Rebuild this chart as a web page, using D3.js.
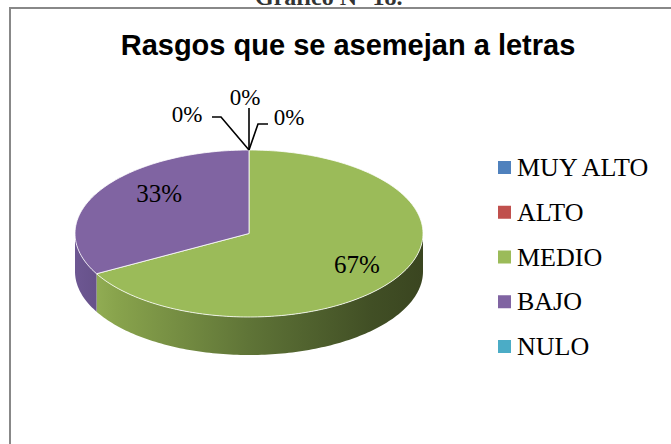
<!DOCTYPE html>
<html>
<head>
<meta charset="utf-8">
<script src="https://cdn.jsdelivr.net/npm/d3@7/dist/d3.min.js"></script>
<style>
  html, body { margin: 0; padding: 0; background: #fff; }
  svg { display: block; }
</style>
</head>
<body>
<svg id="chart" width="671" height="444"></svg>
<script>
// ---- data ----
const categories = ["MUY ALTO", "ALTO", "MEDIO", "BAJO", "NULO"];
const values = [0, 0, 67, 33, 0];
const percentLabels = ["0%", "0%", "67%", "33%", "0%"];
const colors = ["#4f81bd", "#c0504d", "#9bbb59", "#8064a2", "#4bacc6"];
const chartTitle = "Rasgos que se asemejan a letras";
const figureCaption = "Gráfico N° 18.";

// ---- layout ----
const W = 671, H = 444;
const svg = d3.select("#chart");
const cx = 249, cy = 233.5, rx = 174, ry = 83.5, depth = 38;

// frame
svg.append("path")
  .attr("d", `M10,${H} L10,8 L${W},8`)
  .attr("fill", "none").attr("stroke", "#888").attr("stroke-width", 2);

// clipped caption above frame
svg.append("text")
  .attr("x", 255).attr("y", 5)
  .attr("font-family", "Liberation Serif, 'Times New Roman', serif")
  .attr("font-weight", "bold").attr("font-size", 24)
  .attr("fill", "#333")
  .text(figureCaption);

// title
svg.append("text")
  .attr("x", 348).attr("y", 55)
  .attr("text-anchor", "middle")
  .attr("font-family", "Liberation Sans, Arial, sans-serif")
  .attr("font-weight", "bold").attr("font-size", 29)
  .attr("fill", "#000")
  .text(chartTitle);

// ---- pie geometry ----
const pie = d3.pie().sort(null).value(d => d).startAngle(0).endAngle(2 * Math.PI);
const arcs = pie(values);

const px = a => cx + rx * Math.sin(a);
const py = a => cy - ry * Math.cos(a);

function ellipsePts(a0, a1, dy) {
  const n = Math.max(2, Math.ceil(Math.abs(a1 - a0) / 0.02));
  const pts = [];
  for (let i = 0; i <= n; i++) {
    const a = a0 + (a1 - a0) * i / n;
    pts.push([px(a), py(a) + dy]);
  }
  return pts;
}

const defs = svg.append("defs");
const gGreen = defs.append("linearGradient").attr("id", "sideGreen")
  .attr("gradientUnits", "userSpaceOnUse")
  .attr("x1", cx - rx).attr("x2", cx + rx).attr("y1", 0).attr("y2", 0);
[[0, "#9ab65a"], [0.12, "#88a34c"], [0.5, "#5f7437"], [0.85, "#414f25"], [1, "#3a4520"]]
  .forEach(([o, c]) => gGreen.append("stop").attr("offset", o).attr("stop-color", c));
const gPurple = defs.append("linearGradient").attr("id", "sidePurple")
  .attr("gradientUnits", "userSpaceOnUse")
  .attr("x1", cx - rx).attr("x2", cx + rx).attr("y1", 0).attr("y2", 0);
[[0, "#6d5792"], [0.1, "#634e86"], [1, "#3f3157"]]
  .forEach(([o, c]) => gPurple.append("stop").attr("offset", o).attr("stop-color", c));
const sideFill = { 2: "url(#sideGreen)", 3: "url(#sidePurple)" };

const line = d3.line();
const gPie = svg.append("g");

// sides (front half only)
arcs.forEach((d, i) => {
  const s = Math.max(d.startAngle, Math.PI / 2);
  const e = Math.min(d.endAngle, 3 * Math.PI / 2);
  if (d.value <= 0 || s >= e) return;
  const top = ellipsePts(s, e, 0);
  const bot = ellipsePts(e, s, depth);
  gPie.append("path")
    .attr("d", line(top.concat(bot)) + "Z")
    .attr("fill", sideFill[i] || d3.color(colors[i]).darker(0.8));
});

// tops
arcs.forEach((d, i) => {
  if (d.value <= 0) return;
  const pts = [[cx, cy]].concat(ellipsePts(d.startAngle, d.endAngle, 0));
  gPie.append("path")
    .attr("d", line(pts) + "Z")
    .attr("fill", colors[i])
    .attr("stroke", "#fff").attr("stroke-width", 0.8).attr("stroke-linejoin", "round");
});

// ---- labels ----
const labelFont = "Liberation Serif, 'Times New Roman', serif";
const f = 0.72;
arcs.forEach((d, i) => {
  if (d.value <= 0) return;
  const m = (d.startAngle + d.endAngle) / 2;
  const lx = cx + rx * f * Math.sin(m);
  const ly = cy - ry * f * Math.cos(m) + (Math.cos(m) > 0 ? -10 : 0);
  svg.append("text")
    .attr("x", i === 3 ? lx + 18 : lx).attr("y", ly)
    .attr("dy", "0.35em")
    .attr("text-anchor", "middle")
    .attr("font-family", labelFont).attr("font-size", 25)
    .attr("fill", "#000")
    .text(percentLabels[i]);
});

// zero-value labels with leader lines from the top point of the pie
const zeroIdx = values.map((v, i) => v === 0 ? i : -1).filter(i => i >= 0);
const tx = px(0), ty = py(0);
const leaderShapes = [
  { pts: [[tx, ty], [tx - 28, ty - 33], [tx - 37, ty - 33]], lx: tx - 62, ly: ty - 36, anchor: "middle" },
  { pts: [[tx, ty], [tx, ty - 42]], lx: tx - 4, ly: ty - 53, anchor: "middle" },
  { pts: [[tx, ty], [tx + 9, ty - 26], [tx + 19, ty - 26]], lx: tx + 40, ly: ty - 33, anchor: "middle" }
];
zeroIdx.forEach((idx, k) => {
  const L = leaderShapes[k % leaderShapes.length];
  svg.append("path").attr("d", line(L.pts))
    .attr("fill", "none").attr("stroke", "#000").attr("stroke-width", 1.6);
  svg.append("text")
    .attr("x", L.lx).attr("y", L.ly).attr("dy", "0.35em")
    .attr("text-anchor", L.anchor)
    .attr("font-family", labelFont).attr("font-size", 23)
    .attr("fill", "#000")
    .text(percentLabels[idx]);
});

// ---- legend ----
const ly = d3.scalePoint().domain(categories).range([176, 355]);
const legend = svg.append("g");
categories.forEach((c, i) => {
  const y = ly(c);
  legend.append("rect")
    .attr("x", 498).attr("y", y - 15).attr("width", 13).attr("height", 13)
    .attr("fill", colors[i]);
  legend.append("text")
    .attr("x", 517).attr("y", y)
    .attr("font-family", labelFont).attr("font-size", 26)
    .attr("fill", "#000")
    .text(c);
});
</script>
</body>
</html>
